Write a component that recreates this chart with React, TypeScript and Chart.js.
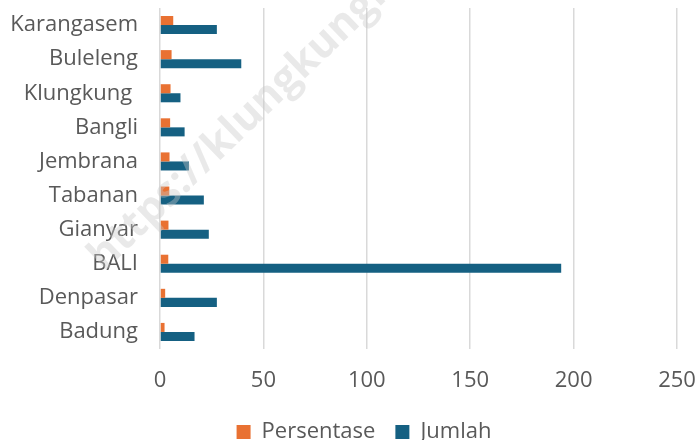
import React, { useEffect, useRef } from "react";
import { Chart, registerables } from "chart.js";

Chart.register(...registerables);

const categories = ["Karangasem", "Buleleng", "Klungkung ", "Bangli", "Jembrana", "Tabanan", "Gianyar", "BALI", "Denpasar", "Badung"];
const persentase = [6.4, 5.6, 5.1, 4.9, 4.6, 4.5, 4.1, 4.0, 2.5, 2.2];
const jumlah = [27.5, 39.3, 9.9, 11.9, 14.0, 21.2, 23.6, 194.0, 27.5, 16.7];
const seriesNames = ["Persentase", "Jumlah"];
const xMin = 0;
const xMax = 250;
const xStep = 50;
const watermark = "https://klungkungkab.bps.go.id";

const FONT = "'Open Sans', Roboto, sans-serif";
const TEXT = "#595959";

const watermarkPlugin = {
  id: "watermark",
  afterDatasetsDraw(chart: any) {
    const ctx = chart.ctx;
    ctx.save();
    ctx.translate(104, 272);
    ctx.rotate(-Math.PI / 4.1);
    ctx.font = `bold 42px ${FONT}`;
    ctx.fillStyle = "rgba(200,200,200,0.4)";
    ctx.textBaseline = "alphabetic";
    ctx.fillText(watermark, 0, 0);
    ctx.restore();
  },
};

const legendShift = {
  id: "legendShift",
  afterLayout(chart: any) {
    if (chart.legend) {
      chart.legend.left += 15;
      chart.legend.right += 15;
    }
  },
};

export default function App() {
  const ref = useRef<HTMLCanvasElement | null>(null);
  useEffect(() => {
    document.body.style.margin = "0";
    const chart = new Chart(ref.current as HTMLCanvasElement, {
      type: "bar",
      data: {
        labels: categories,
        datasets: [
          { label: seriesNames[0], data: persentase, backgroundColor: "#E97132", categoryPercentage: 0.53, barPercentage: 1 },
          { label: seriesNames[1], data: jumlah, backgroundColor: "#156082", categoryPercentage: 0.53, barPercentage: 1 },
        ],
      },
      options: {
        indexAxis: "y",
        animation: false,
        responsive: false,
        maintainAspectRatio: false,
        layout: { padding: { left: 0, right: 0, top: 0, bottom: -13 } },
        scales: {
          x: {
            min: xMin,
            max: xMax,
            ticks: { stepSize: xStep, color: TEXT, font: { family: FONT, size: 22 }, padding: 19 },
            grid: { color: "#d9d9d9", lineWidth: 1.5, drawTicks: false },
            border: { display: false },
            afterFit(scale: any) {
              scale.height = 52;
              scale.paddingLeft = 0;
              scale.paddingRight = 21;
            },
          },
          y: {
            ticks: { color: TEXT, font: { family: FONT, size: 22 }, padding: 22 },
            grid: { display: false, drawTicks: false },
            border: { display: false },
            afterFit(scale: any) {
              scale.width = 160;
              scale.paddingTop = 8;
              scale.paddingBottom = 0;
            },
          },
        },
        plugins: {
          legend: {
            position: "bottom",
            labels: { color: TEXT, font: { family: FONT, size: 22 }, boxWidth: 14, boxHeight: 14, padding: 20 },
          },
          tooltip: { enabled: false },
        },
      },
      plugins: [watermarkPlugin, legendShift],
    } as any);
    return () => chart.destroy();
  }, []);
  return <canvas ref={ref} width={698} height={440} style={{ display: "block" }} />;
}
